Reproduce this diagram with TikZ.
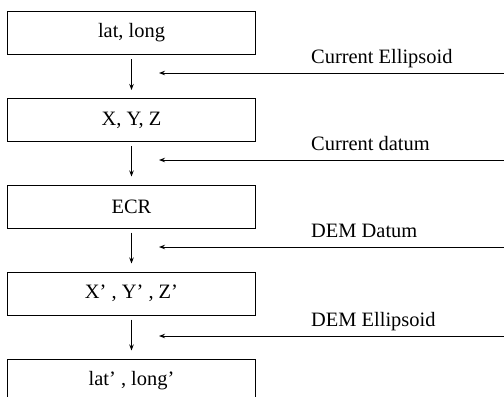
\documentclass[tikz,border=0pt]{standalone}
\usepackage{fontspec}
\setmainfont{Liberation Serif}
\usetikzlibrary{arrows.meta}
\begin{document}
\begin{tikzpicture}[x=1bp,y=-1bp,
  stagebox/.style={draw,line width=1bp,minimum width=247bp,minimum height=43bp,inner sep=0pt,font=\fontsize{20.5}{24}\selectfont},
  flow/.style={line width=0.9bp,-{Stealth[length=6pt,width=4.5pt]}},
  lbl/.style={anchor=base west,inner sep=0pt,font=\fontsize{20.5}{24}\selectfont}]
\useasboundingbox (0,0) rectangle (504,396);
\node[stagebox] (b1) at (131.5,33) {lat, long};
\node[stagebox] (b2) at (131.5,120) {X, Y, Z};
\node[stagebox] (b3) at (131.5,206.5) {ECR};
\node[stagebox] (b4) at (131.5,293.5) {X’ , Y’ , Z’};
\node[stagebox] (b5) at (131.5,380.5) {lat’ , long’};
\foreach \a/\b in {b1/b2,b2/b3,b3/b4,b4/b5}
  \draw[flow,shorten <=4bp,shorten >=8bp] (\a.south) -- (\b.north);
\coordinate (s1) at (504,73);  \coordinate (e1) at (159,73);
\coordinate (s2) at (504,160); \coordinate (e2) at (159,160);
\coordinate (s3) at (504,247); \coordinate (e3) at (159,247);
\coordinate (s4) at (504,336); \coordinate (e4) at (159,336);
\foreach \i in {1,2,3,4} \draw[flow] (s\i) -- (e\i);
\node[lbl] (l1) at (311,63) {Current Ellipsoid};
\node[lbl] (l2) at (311,150) {Current datum};
\node[lbl] (l3) at (311,237) {DEM Datum};
\node[lbl] (l4) at (311,326) {DEM Ellipsoid};
\end{tikzpicture}
\end{document}
